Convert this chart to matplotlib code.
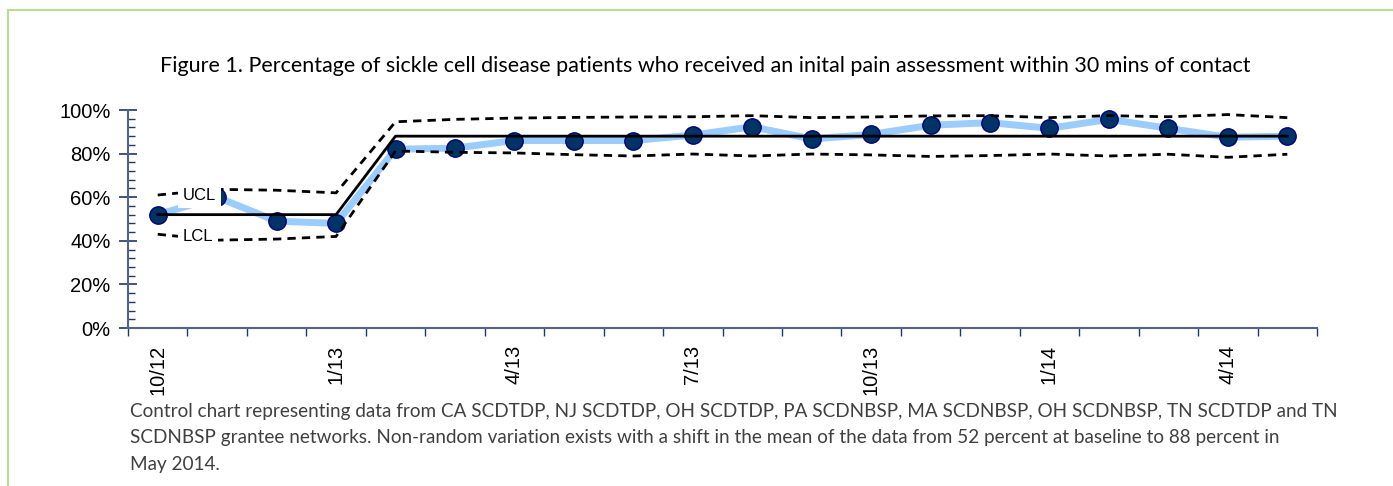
import matplotlib
matplotlib.use("Agg")
import matplotlib.pyplot as plt
from matplotlib.lines import Line2D
from matplotlib.ticker import FixedLocator, MultipleLocator, FuncFormatter

# figure parameters
figDim = (13.93, 4.86)
figDPI = 100
tickFont = 14.5
titleFont = 15.5
captionFont = 13.6

# data (percent)
months = ['10/12', '11/12', '12/12', '1/13', '2/13', '3/13', '4/13', '5/13', '6/13', '7/13',
          '8/13', '9/13', '10/13', '11/13', '12/13', '1/14', '2/14', '3/14', '4/14', '5/14']
pct = [52, 60, 49, 48, 82, 82.5, 86, 86, 86, 88.5, 92.3, 86.7, 88.8, 93, 94.2, 91.6, 95.7, 91.6, 87.5, 88]
cl = [52, 52, 52, 52] + [88] * 16
ucl = [61, 63.6, 63.2, 62, 94.6, 95.7, 96.3, 96.6, 96.8, 96.9, 97.4, 96.5, 96.8, 97.3, 97.4, 96.5, 97.4, 96.9, 97.9, 96.5]
lcl = [43, 40.3, 40.8, 42, 81.2, 80.6, 80.3, 79.5, 78.9, 79.8, 78.9, 79.8, 79.4, 78.7, 79.1, 79.8, 78.9, 79.7, 78.3, 79.7]
labelEvery = 3

title = "Figure 1. Percentage of sickle cell disease patients who received an inital pain assessment within 30 mins of contact"
caption = ["Control chart representing data from CA SCDTDP, NJ SCDTDP, OH SCDTDP, PA SCDNBSP, MA SCDNBSP, OH SCDNBSP, TN SCDTDP and TN",
           "SCDNBSP grantee networks. Non-random variation exists with a shift in the mean of the data from 52 percent at baseline to 88 percent in",
           "May 2014."]

axisColor = "#4f6490"
tickColor = "#1f3864"
lineBlue = "#99ccff"
dotFace = "#003366"
dotEdge = "#000080"
border = "#b8de8e"

fig = plt.figure(figsize=figDim, dpi=figDPI)
W, H = 1393, 486
ax = fig.add_axes([128 / W, (H - 328) / H, (1317 - 128) / W, (328 - 110) / H])

x = list(range(len(months)))
ax.plot(x, pct, color=lineBlue, lw=5, zorder=2, solid_capstyle="butt")
ax.plot(x, pct, ls="none", marker="o", ms=12.5, mfc=dotFace, mec=dotEdge, mew=1, zorder=3)
ax.plot(x, cl, color="black", lw=2, zorder=4)
ax.plot(x, ucl, color="black", lw=2, ls=(0, (3, 2.2)), zorder=4)
ax.plot(x, lcl, color="black", lw=2, ls=(0, (3, 2.2)), zorder=4)

lblStyle = dict(fontsize=12, family="Liberation Sans", ha="left", va="center", zorder=6,
                bbox=dict(boxstyle="square,pad=0.3", fc="white", ec="none"))
ax.text(0.42, 60.6, "UCL", **lblStyle)
ax.text(0.42, 41.9, "LCL", **lblStyle)

ax.set_xlim(-0.5, len(months) - 0.5)
ax.set_ylim(0, 100)

# y axis
ax.yaxis.set_major_locator(MultipleLocator(20))
ax.yaxis.set_minor_locator(MultipleLocator(4))
ax.yaxis.set_major_formatter(FuncFormatter(lambda v, p: "%d%%" % v))
ax.tick_params(axis="y", which="major", direction="inout", length=13, width=1.2, color=tickColor,
               labelsize=tickFont, pad=6)
ax.tick_params(axis="y", which="minor", direction="in", length=5, width=1, color=tickColor)

# x axis: ticks between months, labels every third month
ax.xaxis.set_major_locator(FixedLocator(x[::labelEvery]))
ax.set_xticklabels(months[::labelEvery], rotation=90, fontsize=tickFont)
ax.xaxis.set_minor_locator(FixedLocator([i - 0.5 for i in range(len(months) + 1)]))
ax.tick_params(axis="x", which="major", length=0, pad=12)
ax.tick_params(axis="x", which="minor", direction="out", length=6, width=1, color=tickColor)
for lab in ax.get_xticklabels() + ax.get_yticklabels():
    lab.set_family("Liberation Sans")

for s in ["top", "right"]:
    ax.spines[s].set_visible(False)
for s in ["left", "bottom"]:
    ax.spines[s].set_color(axisColor)
    ax.spines[s].set_linewidth(1.5)

fig.text(705 / W, 1 - 66 / H, title, fontsize=titleFont, family="Lato", ha="center", va="center")
for i, line in enumerate(caption):
    fig.text(130 / W, 1 - (411 + i * 26.5) / H, line, fontsize=captionFont, family="Lato",
             color="#404040", ha="left", va="center")

# green frame (top and left edges)
fig.add_artist(Line2D([8 / W, 1], [1 - 10 / H, 1 - 10 / H], color=border, lw=1.5))
fig.add_artist(Line2D([8 / W, 8 / W], [0, 1 - 10 / H], color=border, lw=1.5))

fig.savefig("out.png", dpi=figDPI)
